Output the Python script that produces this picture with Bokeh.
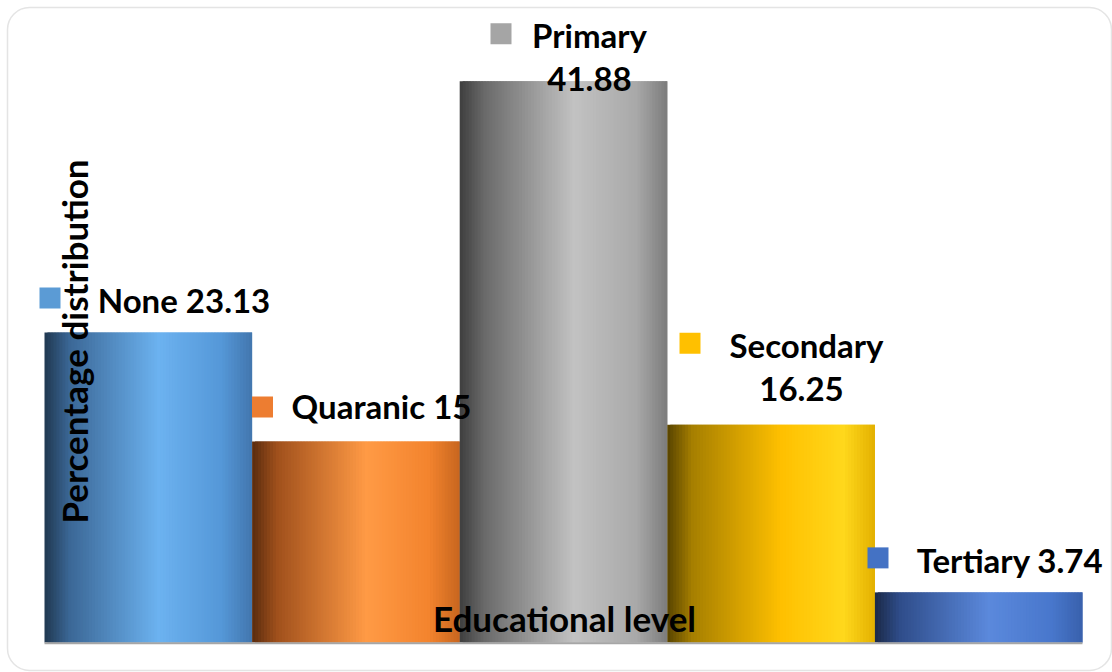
import math
from bokeh.plotting import figure
from bokeh.models import ColumnDataSource, Range1d, BoxAnnotation, Label
from bokeh.core.properties import value
from bokeh.embed import file_html
from bokeh.resources import INLINE

# ---- data ----
categories = ["None", "Quaranic", "Primary", "Secondary", "Tertiary"]
values = [23.13, 15, 41.88, 16.25, 3.74]
two_line = [False, False, True, True, False]
x_title = "Educational level"
y_title = "Percentage distribution"

# ---- styles ----
key_colors = ["#5b9bd5", "#ed7d31", "#a5a5a5", "#ffc000", "#4472c4"]
grad_pos = [0.0, 0.12, 0.55, 0.85, 1.0]
grad_colors = [
    ["#203850", "#3b6796", "#6cb2f0", "#5598d8", "#4276ae"],
    ["#5a2c0e", "#a0501c", "#ff9a45", "#f3842e", "#c8661f"],
    ["#3e3e3e", "#6a6a6a", "#c2c2c2", "#a9a9a9", "#7c7c7c"],
    ["#574300", "#a67f00", "#ffc000", "#ffd81c", "#e3b000"],
    ["#1b2947", "#2f4d8a", "#5b89dc", "#4877cc", "#3961ac"],
]
W, H = 1112, 672
left_px, right_px = 44, 1082
base_px = 642          # pixel row of value 0 (from top)
px_per_unit = 13.4

ux = (right_px - left_px) / len(categories)
x0 = -left_px / ux
x1 = len(categories) + (W - right_px) / ux
y0 = -(H - base_px) / px_per_unit
y1 = base_px / px_per_unit

p = figure(width=W, height=H, output_backend="svg", toolbar_location=None,
           x_range=Range1d(x0, x1), y_range=Range1d(y0, y1),
           min_border=0, min_border_left=0, min_border_right=0,
           min_border_top=0, min_border_bottom=0)
p.axis.visible = False
p.grid.visible = False
p.outline_line_color = None
p.background_fill_color = "white"
p.border_fill_color = "white"


def hex2rgb(h):
    h = h.lstrip("#")
    return [int(h[i:i + 2], 16) for i in (0, 2, 4)]


def interp(stops, t):
    for j in range(len(grad_pos) - 1):
        a, b = grad_pos[j], grad_pos[j + 1]
        if a <= t <= b:
            f = (t - a) / (b - a) if b > a else 0
            c1, c2 = hex2rgb(stops[j]), hex2rgb(stops[j + 1])
            c = [round(c1[k] + (c2[k] - c1[k]) * f) for k in range(3)]
            return "#%02x%02x%02x" % tuple(c)
    return stops[-1]


N = 70
L, R, T, B, C = [], [], [], [], []
for i, v in enumerate(values):
    for k in range(N):
        t = (k + 0.5) / N
        L.append(i + k / N)
        R.append(i + min(k + 2, N) / N)   # overlap next strip to avoid seams
        T.append(v)
        B.append(0)
        C.append(interp(grad_colors[i], t))
src = ColumnDataSource(dict(left=L, right=R, top=T, bottom=B, color=C))
p.quad(left="left", right="right", top="top", bottom="bottom", source=src,
       fill_color="color", line_color=None)

# baseline (category axis line)
p.line(x=[0, len(categories)], y=[-0.05, -0.05], line_color="#a6a6a6", line_width=2)

# ---- data labels ----
font = value("Lato")
fs = "33px"
# per-label offsets in pixels relative to (bar centre, bar top)
text_dx = [35.7, 25.6, 26.0, 35.4, 31.3]
text_dy = [-33, -36, -46, -80, -32]      # baseline of first line
line_gap = 44
key_dx = [-98.3, -93.4, -62.5, -81.1, -100.7]
key_dy = [-34.5, -34.5, -47.5, -81.5, -34.5]

tx, ty, tt, tox, toy = [], [], [], [], []
for i, (c, v) in enumerate(zip(categories, values)):
    vs = f"{v:g}"
    if two_line[i]:
        lines = [c, vs]
    else:
        lines = [f"{c} {vs}"]
    for j, s in enumerate(lines):
        tx.append(i + 0.5)
        ty.append(v)
        tt.append(s)
        dx = text_dx[i] if j == 0 else text_dx[i] - (5 if i == 3 else 0)
        tox.append(dx)
        toy.append(text_dy[i] + j * line_gap)
tsrc = ColumnDataSource(dict(x=tx, y=ty, text=tt, xo=tox, yo=toy))
p.text(x="x", y="y", text="text", x_offset="xo", y_offset="yo", source=tsrc,
       text_font=font, text_font_size=fs, text_font_style="bold",
       text_color="black", text_align="center", text_baseline="alphabetic")

ksrc = ColumnDataSource(dict(
    xs=[(i + 0.5) + key_dx[i] / ux for i in range(len(values))],
    ys=[values[i] - key_dy[i] / px_per_unit for i in range(len(values))],
    color=key_colors))
p.scatter(x="xs", y="ys", source=ksrc, marker="square", size=21,
          fill_color="color", line_color=None)

# ---- axis titles ----
p.add_layout(Label(x=564, y=H - 617, x_units="screen", y_units="screen",
                   text=x_title, text_font="Lato", text_font_size="35px",
                   text_font_style="bold", text_align="center",
                   text_baseline="alphabetic", text_color="black"))
p.add_layout(Label(x=73, y=H - 341, x_units="screen", y_units="screen",
                   text=y_title, angle=math.pi / 2, text_font="Lato",
                   text_font_size="35px", text_font_style="bold",
                   text_align="center", text_baseline="alphabetic",
                   text_color="black"))

# ---- rounded chart border ----
p.add_layout(BoxAnnotation(left=7, right=1111, top=H - 7, bottom=H - 670,
                           left_units="screen", right_units="screen",
                           top_units="screen", bottom_units="screen",
                           fill_alpha=0, line_color="#a6a6a6", line_width=1.5,
                           border_radius=22, level="underlay"))

open("out.html", "w").write(file_html(p, INLINE))
